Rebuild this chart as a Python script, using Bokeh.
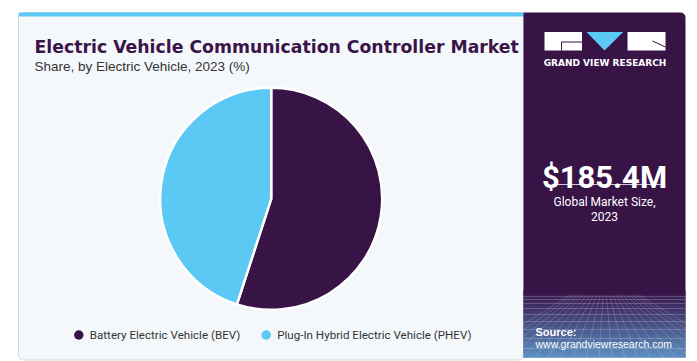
import numpy as np
from bokeh.plotting import figure
from bokeh.models import Range1d, Label, ColumnDataSource
from bokeh.core.properties import value
from bokeh.embed import file_html
from bokeh.resources import INLINE

# ---- data ----
categories = ["Battery Electric Vehicle (BEV)", "Plug-In Hybrid Electric Vehicle (PHEV)"]
shares = [55.0, 45.0]
colors = ["#371346", "#5bc9f4"]
title_text = "Electric Vehicle Communication Controller Market"
subtitle_text = "Share, by Electric Vehicle, 2023 (%)"
market_size = "$185.4M"
market_label = ["Global Market Size,", "2023"]
source_lines = ["Source:", "www.grandviewresearch.com"]

DARK = "#371346"
CYAN = "#5bc9f4"

W, H = 697, 361
p = figure(width=W, height=H, output_backend="svg", toolbar_location=None,
           x_range=Range1d(0, 697), y_range=Range1d(-361, 0),
           min_border=0, outline_line_color=None)
p.axis.visible = False
p.grid.visible = False
p.background_fill_color = "white"
p.border_fill_color = "white"

# left panel
p.quad(left=[18], right=[523], top=[-12], bottom=[-359.5], fill_color="#f4f8fb",
       line_color="#d3d6da", line_width=1, border_radius=5)
p.quad(left=[18], right=[523], top=[-12], bottom=[-16], fill_color=CYAN, line_color=None)

# right panel
p.quad(left=[523], right=[685], top=[-12], bottom=[-357], fill_color=DARK,
       line_color=None, border_radius=[0, 5, 0, 0])
# gradient at bottom of right panel
top_g, bot_g = 293, 357
c0 = np.array([0x3d, 0x22, 0x58])
c1 = np.array([0x6a, 0xbc, 0xec])
ys = np.arange(top_g, bot_g)
t = (ys - top_g) / (bot_g - top_g)
t = t ** 1.1
cols = ["#%02x%02x%02x" % tuple((c0 * (1 - tt) + c1 * tt).astype(int)) for tt in t]
p.quad(left=[523] * len(ys), right=[685] * len(ys), top=list(-ys), bottom=list(-(ys + 1)),
       fill_color=cols, line_color=None)
# faint perspective grid
hy = [296, 299, 303, 308, 314, 321, 329, 338, 348]
p.multi_line(xs=[[523, 685]] * len(hy), ys=[[-y, -y] for y in hy],
             line_color="white", line_alpha=0.2, line_width=1)
vx0 = np.linspace(470, 740, 22)
p.multi_line(xs=[[604 + (x - 604) * 0.25, x] for x in vx0],
             ys=[[-294, -357] for _ in vx0],
             line_color="white", line_alpha=0.17, line_width=1)
p.quad(left=[523], right=[685], top=[-290], bottom=[-294], fill_color=DARK, line_color=None)

# logo
p.quad(left=[544, 627], right=[581.5, 665], top=[-31.5, -31.5], bottom=[-50, -50],
       fill_color="white", line_color=None)
p.patch(x=[586, 622.7, 604], y=[-31.5, -31.5, -50], fill_color=CYAN, line_color=None)
p.multi_line(xs=[[561, 581.5], [561, 561], [652, 665]],
             ys=[[-41.5, -41.5], [-41.5, -50], [-40.5, -46.5]],
             line_color=DARK, line_width=1)
p.add_layout(Label(x=604.5, y=-62, text="GRAND VIEW RESEARCH", text_align="center",
                   text_baseline="middle", text_color="white", text_font_size="9px",
                   text_font_style="bold", text_font="DejaVu Sans"))

# market size
p.add_layout(Label(x=604, y=-177, text=market_size, text_align="center",
                   text_baseline="alphabetic", text_color="white", text_font_size="31px",
                   text_font_style="bold", text_font="Roboto"))
p.line(x=[553, 664], y=[-184, -184], line_color="#cfc6d6", line_width=1)
for i, s in enumerate(market_label):
    p.add_layout(Label(x=604, y=-201 - 14.5 * i, text=s, text_align="center",
                       text_baseline="alphabetic", text_color="white", text_font_size="12px",
                       text_font="Roboto"))

# source
p.add_layout(Label(x=535, y=-331.5, text=source_lines[0], text_align="left",
                   text_baseline="alphabetic", text_color="white", text_font_size="11px",
                   text_font_style="bold", text_font="Liberation Sans"))
p.add_layout(Label(x=535, y=-343.5, text=source_lines[1], text_align="left",
                   text_baseline="alphabetic", text_color="white", text_font_size="10.5px",
                   text_font="Liberation Sans"))

# title
p.add_layout(Label(x=34, y=-46, text=title_text, text_align="left",
                   text_baseline="alphabetic", text_color="#3a1448", text_font_size="17.3px",
                   text_font_style="bold", text_font="DejaVu Sans"))
p.add_layout(Label(x=34, y=-66, text=subtitle_text, text_align="left",
                   text_baseline="alphabetic", text_color="#333333", text_font_size="13.5px",
                   text_font="Liberation Sans"))

# pie
vals = np.array(shares, dtype=float)
frac = vals / vals.sum()
cum = np.concatenate([[0], np.cumsum(frac)])
start = np.pi / 2 - cum[:-1] * 2 * np.pi
end = np.pi / 2 - cum[1:] * 2 * np.pi
src = ColumnDataSource(dict(cat=categories, val=shares, color=colors,
                            start=start, end=end,
                            x=[270.7] * len(shares), y=[-198.3] * len(shares)))
p.wedge(x="x", y="y", radius=111, start_angle="start", end_angle="end",
        direction="clock", fill_color="color", line_color="white", line_width=2.5,
        source=src)

# legend
leg_x = [78.3, 265.7]
p.scatter(x=leg_x, y=[-334.5] * 2, size=9.5, marker="circle", fill_color=colors, line_color=None)
p.text(x=[x + 11 for x in leg_x], y=[-334] * 2, text=categories, text_baseline="middle",
       text_align="left", text_color="#333333", text_font_size="11.6px",
       text_font=value("Roboto"))

open("out.html", "w").write(file_html(p, INLINE))
